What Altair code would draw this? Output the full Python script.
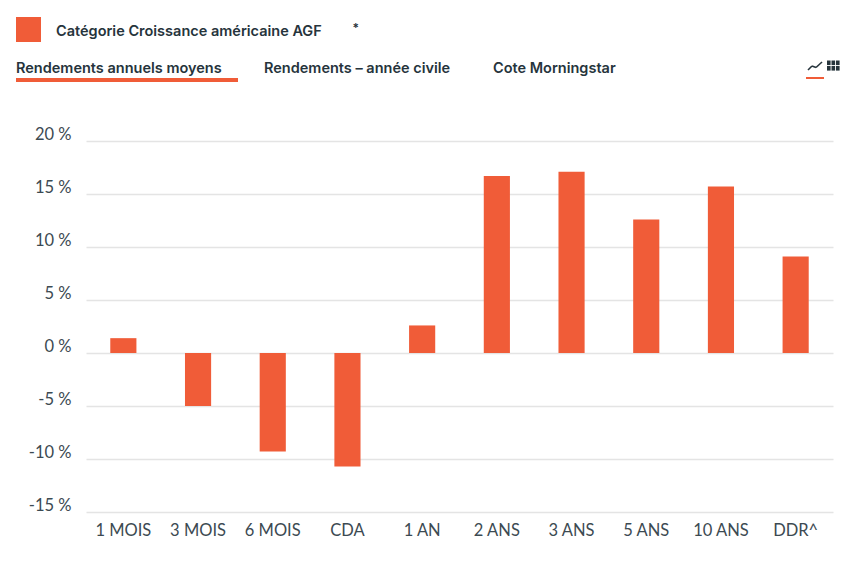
import altair as alt
import pandas as pd

categories = ["1 MOIS", "3 MOIS", "6 MOIS", "CDA", "1 AN", "2 ANS", "3 ANS", "5 ANS", "10 ANS", "DDR^"]
values = [1.4, -5.0, -9.3, -10.7, 2.6, 16.7, 17.1, 12.6, 15.7, 9.1]
y_ticks = [-15, -10, -5, 0, 5, 10, 15, 20]
tabs = ["Rendements annuels moyens", "Rendements – année civile", "Cote Morningstar"]
tab_x = [16, 264, 493]
legend_label = "Catégorie Croissance américaine AGF"

ORANGE = "#f05c38"
INK = "#26343c"
AXIS_INK = "#3c4a52"
GRID = "#e4e4e4"
LEFT, TOP = 86, 141
W, H = 747, 371
FONT = "Lato"
HEAD = "Inter"

df = pd.DataFrame({"cat": categories, "val": values})
one = pd.DataFrame({"a": [0]})

bars = alt.Chart(df).mark_bar(color=ORANGE).encode(
    x=alt.X("cat:N", sort=categories, title=None,
            scale=alt.Scale(paddingInner=0.65, paddingOuter=0.325),
            axis=alt.Axis(domain=False, ticks=False, labelAngle=0, labelFont=FONT, labelFontSize=16.5,
                          labelColor=AXIS_INK, labelPadding=10, labelBaseline="top", grid=False)),
    y=alt.Y("val:Q", title=None,
            scale=alt.Scale(domain=[-15, 20], nice=False),
            axis=alt.Axis(values=y_ticks, domain=False, ticks=False, labelFont=FONT, labelFontSize=16.5,
                          labelColor=AXIS_INK, labelPadding=15, labelOffset=-7, labelExpr="datum.value + ' %'",
                          grid=True, gridColor=GRID, gridWidth=1.5)),
)


def px(x):
    return alt.value(x - LEFT)


def py(y):
    return alt.value(y - TOP)


def rect(x0, x1, y0, y1, color):
    return alt.Chart(one).mark_rect(color=color).encode(x=px(x0), x2=px(x1), y=py(y0), y2=py(y1))


def seg(x0, y0, x1, y1):
    return alt.Chart(one).mark_rule(color=INK, strokeWidth=1.6).encode(x=px(x0), x2=px(x1), y=py(y0), y2=py(y1))


def label(txt, x, y, size=14.5, font=HEAD):
    return alt.Chart(pd.DataFrame({"t": [txt]})).mark_text(
        align="left", baseline="middle", font=font, fontSize=size, fontWeight=600, color=INK
    ).encode(text="t:N", x=px(x), y=py(y))


layers = [bars, rect(16, 41, 17, 42, ORANGE), label(legend_label, 56, 32), label("*", 352.5, 28, 12)]
for t, xx in zip(tabs, tab_x):
    layers.append(label(t, xx, 69))
layers.append(rect(16, 238, 78, 82, ORANGE))
layers.append(rect(806, 824, 77, 79, ORANGE))
layers += [seg(808, 70, 812, 66), seg(812, 66, 816, 67.5), seg(816, 67.5, 822, 62)]
for cx in (827, 831.5, 836):
    for cy in (60.5, 66):
        layers.append(rect(cx, cx + 3.6, cy, cy + 4.6, INK))

chart = alt.layer(*layers).properties(
    width=W, height=H,
    autosize=alt.AutoSizeParams(type="none"),
    padding={"left": LEFT - 8, "top": TOP - 8, "right": 20, "bottom": 47},
    background="white",
).configure_view(stroke=None)

chart.save("out.html", embed_options={"renderer": "svg", "actions": False})
